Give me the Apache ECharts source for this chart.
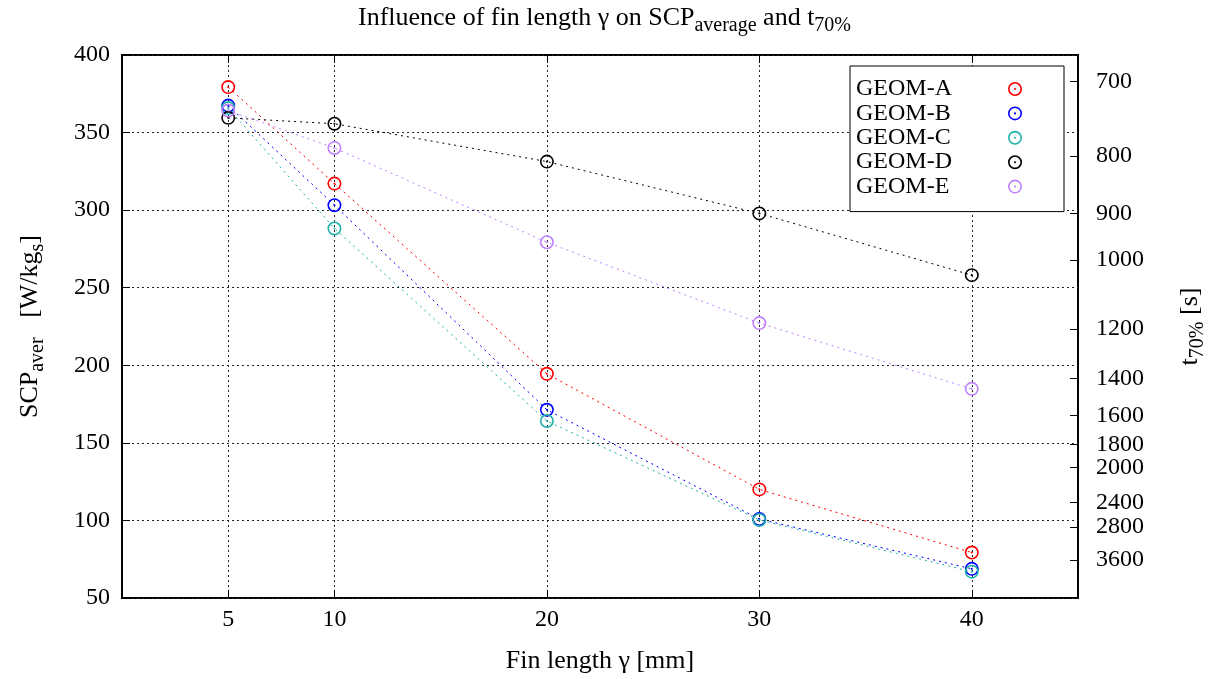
<!DOCTYPE html>
<html><head><meta charset="utf-8">
<script src="https://cdn.jsdelivr.net/npm/echarts@6/dist/echarts.min.js"></script>
<style>html,body{margin:0;padding:0;background:#fff}#c{width:1217px;height:679px}</style>
</head><body><div id="c"></div>
<script>
// ---- data ----
const finLength = [5, 10, 20, 30, 40];
const geomA = [379.3, 317.1, 194.5, 120.0, 79.3];
const geomB = [367.4, 303.2, 171.3, 100.9, 68.8];
const geomC = [365.8, 288.2, 164.1, 100.3, 67.0];
const geomD = [359.5, 355.7, 331.3, 297.9, 258.1];
const geomE = [364.2, 340.1, 279.3, 227.2, 184.8];
const seriesNames = ['GEOM-A', 'GEOM-B', 'GEOM-C', 'GEOM-D', 'GEOM-E'];
const seriesValues = [geomA, geomB, geomC, geomD, geomE];
const seriesColors = ['#ff0000', '#0000ff', '#20b2aa', '#000000', '#bf80ff'];
const xTicks = [5, 10, 20, 30, 40];
const t70Ticks = [700, 800, 900, 1000, 1200, 1400, 1600, 1800, 2000, 2400, 2800, 3600];
const t70Const = 268000; // t70 [s] = t70Const / SCP

// ---- style ----
const FONT = 'Liberation Serif';
const FS = 24;
const ringPath = 'path://M0,-10A10,10,0,1,1,0,10A10,10,0,1,1,0,-10ZM0,-7.7A7.7,7.7,0,1,0,0,7.7A7.7,7.7,0,1,0,0,-7.7ZM0,-1.5A1.5,1.5,0,1,1,0,1.5A1.5,1.5,0,1,1,0,-1.5Z';

const subRich = {
  m: { fontFamily: FONT, fontSize: 26, fontWeight: 'normal', lineHeight: 28, verticalAlign: 'top', color: '#000' },
  s: { fontFamily: FONT, fontSize: 20, fontWeight: 'normal', lineHeight: 20, verticalAlign: 'top', padding: [11, 0, 0, 0], color: '#000' }
};

const t70Positions = t70Ticks.map(t => t70Const / t);

const chart = echarts.init(document.getElementById('c'));
const option = {
  backgroundColor: '#fff',
  animation: false,
  textStyle: { fontFamily: FONT },
  title: {
    text: '{m|Influence of fin length γ on SCP}{s|average}{m| and t}{s|70%}',
    left: 353, top: 0,
    textStyle: { fontWeight: 'normal', rich: subRich }
  },
  legend: {
    left: 850, top: 66,
    orient: 'vertical',
    align: 'right',
    backgroundColor: '#fff',
    borderColor: '#000', borderWidth: 1,
    borderRadius: 0,
    padding: [11, 42, 13, 6],
    itemGap: 0.4,
    itemWidth: 14, itemHeight: 14,
    icon: ringPath,
    formatter: n => '{n|' + n + '}',
    textStyle: {
      rich: { n: { fontFamily: FONT, fontSize: FS, width: 147, align: 'left', color: '#000' } }
    },
    data: seriesNames
  },
  grid: {
    left: 122, top: 55, right: 139, bottom: 79,
    show: true, borderColor: '#000', borderWidth: 2, backgroundColor: 'transparent'
  },
  xAxis: [{
    type: 'value', min: 0, max: 45, position: 'bottom',
    name: 'Fin length γ [mm]', nameLocation: 'middle', nameGap: 50,
    nameTextStyle: { fontFamily: FONT, fontSize: 26, color: '#000' },
    axisLine: { show: false, onZero: false },
    axisTick: { show: true, inside: true, length: 8, customValues: xTicks, lineStyle: { color: '#000', width: 1 } },
    axisLabel: { customValues: xTicks, fontFamily: FONT, fontSize: FS, color: '#000', margin: 10 },
    splitLine: { show: true, customValues: xTicks, lineStyle: { color: '#222', type: [2, 3], width: 1 } }
  }, {
    type: 'value', min: 0, max: 45, position: 'top',
    axisLine: { show: false, onZero: false },
    axisTick: { show: true, inside: true, length: 8, customValues: xTicks, lineStyle: { color: '#000', width: 1 } },
    axisLabel: { show: false },
    splitLine: { show: false }
  }],
  yAxis: [{
    type: 'value', min: 50, max: 400, interval: 50, position: 'left',
    name: '{m|SCP}{s|aver}{m|   [W/kg}{s|s}{m|]}', nameLocation: 'middle', nameGap: 77, nameRotate: 90,
    nameTextStyle: { fontWeight: 'normal', rich: subRich },
    axisLine: { show: false, onZero: false },
    axisTick: { show: true, inside: true, length: 8, lineStyle: { color: '#000', width: 1 } },
    axisLabel: { fontFamily: FONT, fontSize: FS, color: '#000', margin: 12 },
    splitLine: { show: true, lineStyle: { color: '#222', type: [2, 3], width: 1 } }
  }, {
    type: 'value', min: 50, max: 400, position: 'right',
    name: '{m|t}{s|70%}{m| [s]}', nameLocation: 'middle', nameGap: 99, nameRotate: 90,
    nameTextStyle: { fontWeight: 'normal', rich: subRich },
    axisLine: { show: false, onZero: false },
    axisTick: { show: true, inside: true, length: 8, customValues: t70Positions, lineStyle: { color: '#000', width: 1 } },
    axisLabel: {
      customValues: t70Positions, fontFamily: FONT, fontSize: FS, color: '#000', margin: 18,
      formatter: v => String(Math.round(t70Const / v))
    },
    splitLine: { show: false }
  }],
  series: seriesNames.map((name, i) => ({
    name: name,
    type: 'line',
    xAxisIndex: 0, yAxisIndex: 0,
    data: finLength.map((x, j) => [x, seriesValues[i][j]]),
    symbol: ringPath,
    symbolSize: 14,
    color: seriesColors[i],
    itemStyle: { color: seriesColors[i] },
    lineStyle: { color: seriesColors[i], width: 1, type: [2, 4] },
    clip: false,
    z: 2 + i
  }))
};
chart.setOption(option);
</script>
</body></html>
